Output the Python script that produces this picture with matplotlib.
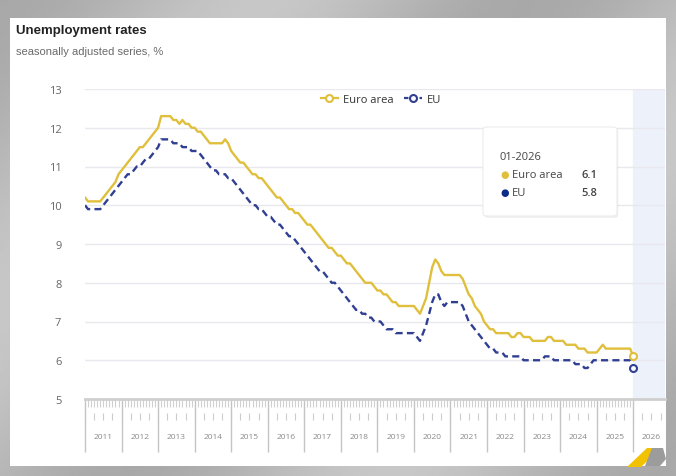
import numpy as np
import matplotlib
matplotlib.use("Agg")
import matplotlib.pyplot as plt
from matplotlib.lines import Line2D
from matplotlib.patches import FancyBboxPatch, Polygon, Rectangle

plt.rcParams['font.family'] = ['Open Sans', 'DejaVu Sans']

# monthly series, Jan 2011 .. Jan 2026 (one row per year)
euro_area = [
    10.2, 10.1, 10.1, 10.1, 10.1, 10.1, 10.2, 10.3, 10.4, 10.5, 10.6, 10.8,
    10.9, 11.0, 11.1, 11.2, 11.3, 11.4, 11.5, 11.5, 11.6, 11.7, 11.8, 11.9,
    12.0, 12.3, 12.3, 12.3, 12.3, 12.2, 12.2, 12.1, 12.2, 12.1, 12.1, 12.0,
    12.0, 11.9, 11.9, 11.8, 11.7, 11.6, 11.6, 11.6, 11.6, 11.6, 11.7, 11.6,
    11.4, 11.3, 11.2, 11.1, 11.1, 11.0, 10.9, 10.8, 10.8, 10.7, 10.7, 10.6,
    10.5, 10.4, 10.3, 10.2, 10.2, 10.1, 10.0, 9.9, 9.9, 9.8, 9.8, 9.7,
    9.6, 9.5, 9.5, 9.4, 9.3, 9.2, 9.1, 9.0, 8.9, 8.9, 8.8, 8.7,
    8.7, 8.6, 8.5, 8.5, 8.4, 8.3, 8.2, 8.1, 8.0, 8.0, 8.0, 7.9,
    7.8, 7.8, 7.7, 7.7, 7.6, 7.5, 7.5, 7.4, 7.4, 7.4, 7.4, 7.4,
    7.4, 7.3, 7.2, 7.4, 7.6, 8.0, 8.4, 8.6, 8.5, 8.3, 8.2, 8.2,
    8.2, 8.2, 8.2, 8.2, 8.1, 7.9, 7.7, 7.6, 7.4, 7.3, 7.2, 7.0,
    6.9, 6.8, 6.8, 6.7, 6.7, 6.7, 6.7, 6.7, 6.6, 6.6, 6.7, 6.7,
    6.6, 6.6, 6.6, 6.5, 6.5, 6.5, 6.5, 6.5, 6.6, 6.6, 6.5, 6.5,
    6.5, 6.5, 6.4, 6.4, 6.4, 6.4, 6.3, 6.3, 6.3, 6.2, 6.2, 6.2,
    6.2, 6.3, 6.4, 6.3, 6.3, 6.3, 6.3, 6.3, 6.3, 6.3, 6.3, 6.3,
    6.1,
]
eu = [
    10.0, 9.9, 9.9, 9.9, 9.9, 9.9, 10.0, 10.1, 10.2, 10.3, 10.4, 10.5,
    10.6, 10.7, 10.8, 10.8, 10.9, 11.0, 11.0, 11.1, 11.2, 11.2, 11.3, 11.4,
    11.5, 11.7, 11.7, 11.7, 11.7, 11.6, 11.6, 11.6, 11.5, 11.5, 11.5, 11.4,
    11.4, 11.4, 11.3, 11.2, 11.1, 11.0, 10.9, 10.9, 10.8, 10.8, 10.8, 10.7,
    10.7, 10.6, 10.5, 10.4, 10.3, 10.2, 10.1, 10.0, 10.0, 9.9, 9.9, 9.8,
    9.7, 9.7, 9.6, 9.5, 9.5, 9.4, 9.3, 9.2, 9.2, 9.1, 9.0, 8.9,
    8.8, 8.7, 8.6, 8.5, 8.4, 8.3, 8.3, 8.2, 8.1, 8.0, 8.0, 7.9,
    7.8, 7.7, 7.6, 7.5, 7.4, 7.3, 7.3, 7.2, 7.2, 7.1, 7.1, 7.0,
    7.0, 7.0, 6.9, 6.8, 6.8, 6.8, 6.7, 6.7, 6.7, 6.7, 6.7, 6.7,
    6.7, 6.6, 6.5, 6.7, 6.9, 7.2, 7.5, 7.7, 7.7, 7.5, 7.4, 7.5,
    7.5, 7.5, 7.5, 7.5, 7.4, 7.2, 7.0, 6.9, 6.8, 6.7, 6.6, 6.5,
    6.4, 6.3, 6.3, 6.2, 6.2, 6.2, 6.1, 6.1, 6.1, 6.1, 6.1, 6.1,
    6.0, 6.0, 6.0, 6.0, 6.0, 6.0, 6.0, 6.1, 6.1, 6.1, 6.0, 6.0,
    6.0, 6.0, 6.0, 6.0, 6.0, 5.9, 5.9, 5.9, 5.8, 5.8, 5.9, 6.0,
    6.0, 6.0, 6.0, 6.0, 6.0, 6.0, 6.0, 6.0, 6.0, 6.0, 6.0, 6.0,
    5.8,
]
start_year = 2011
years = list(range(2011, 2027))
y_ticks = [5, 6, 7, 8, 9, 10, 11, 12, 13]

series_names = ["Euro area", "EU"]
tooltip_date = "01-2026"
tooltip_values = ["6.1", "5.8"]

months = start_year + np.arange(len(euro_area)) / 12.0

c_ea = "#e0bf3c"
c_eu = "#303f92"

fig = plt.figure(figsize=(6.76, 4.77), dpi=100)
fig.patch.set_facecolor("#b8b8b8")

# grey frame with soft diagonal streaks
bg = fig.add_axes([0, 0, 1, 1], zorder=-10)
gx, gy = np.meshgrid(np.linspace(0, 1, 200), np.linspace(0, 1, 200))
bg.imshow(0.66 + 0.12 * np.sin(4.0 * (gx + 0.6 * gy)) ** 2, cmap="gray", vmin=0, vmax=1,
          extent=[0, 1, 0, 1], aspect="auto")
bg.add_patch(Rectangle((10 / 676, 1 - 467 / 477), (666 - 10) / 676, (467 - 19) / 477,
                       facecolor="white", edgecolor="none"))
bg.add_patch(Polygon([(627 / 676, 1 - 468 / 477), (647 / 676, 1 - 449 / 477),
                      (661 / 676, 1 - 449 / 477), (641 / 676, 1 - 468 / 477)],
                     facecolor="#f2c200", edgecolor="none"))
bg.add_patch(Polygon([(652 / 676, 1 - 449 / 477), (663 / 676, 1 - 449 / 477),
                      (666 / 676, 1 - 460 / 477), (660 / 676, 1 - 467 / 477),
                      (645 / 676, 1 - 467 / 477)],
                     facecolor="#9c9c9c", edgecolor="none"))
bg.set_xlim(0, 1)
bg.set_ylim(0, 1)
bg.axis("off")

fig.text(16 / 676, 1 - 31 / 477, "Unemployment rates", fontsize=9.5, fontweight="bold",
         color="#222222", family=["Liberation Sans", "DejaVu Sans"], va="center")
fig.text(16 / 676, 1 - 52 / 477, "seasonally adjusted series, %", fontsize=8,
         color="#6a6a6a", family=["Liberation Sans", "DejaVu Sans"], va="center")

ax = fig.add_axes([85 / 676, 1 - 400 / 477, 580 / 676, 310 / 477])
ax.set_facecolor("none")
ax.set_xlim(2011, 2026.87)
ax.set_ylim(5, 13)

ax.axvspan(2026, 2026.87, color="#edf1fa", zorder=0)
for v in y_ticks[1:]:
    ax.axhline(v, color="#e8e8ee", lw=1, zorder=1)

ax.plot(months, eu, color=c_eu, lw=1.7, dashes=(3.0, 1.8), zorder=3)
ax.plot(months, euro_area, color=c_ea, lw=1.7, zorder=4)
ax.plot(months[-1], euro_area[-1], "o", ms=5, mfc="white", mec=c_ea, mew=1.5, zorder=5)
ax.plot(months[-1], eu[-1], "o", ms=5, mfc="white", mec=c_eu, mew=1.5, zorder=5)

for s in ["top", "right", "left"]:
    ax.spines[s].set_visible(False)
ax.spines["bottom"].set_color("#cfcfcf")
ax.spines["bottom"].set_linewidth(2)

ax.set_yticks(y_ticks)
ax.tick_params(axis="y", length=0, pad=17, labelsize=8, labelcolor="#666666")

# x axis: year separators, monthly ruler ticks, year labels
ax.set_xticks(years)
ax.set_xticklabels([])
ax.set_xticks(months, minor=True)
ax.tick_params(axis="x", which="major", length=38, width=1, color="#c4c4c4")
ax.tick_params(axis="x", which="minor", length=6, width=0.8, color="#d0d0d0")

sec = ax.secondary_xaxis(-0.045)
sec.spines["bottom"].set_visible(False)
sec.set_xticks(start_year + np.arange(0, 16 * 12, 3) / 12.0)
sec.set_xticklabels([])
sec.tick_params(axis="x", length=5, width=0.8, color="#cccccc")

for yr in years:
    ax.text(yr + 0.5, -0.122, str(yr), transform=ax.get_xaxis_transform(),
            ha="center", va="center", fontsize=6, color="#8a8a8a")

handles = [
    Line2D([], [], color=c_ea, lw=1.6, marker="o", ms=5, mfc="white", mec=c_ea, mew=1.5),
    Line2D([], [], color=c_eu, lw=1.6, dashes=(2.0, 1.5), marker="o", ms=5, mfc="white",
           mec=c_eu, mew=1.5),
]
ax.legend(handles, series_names, loc="center", bbox_to_anchor=(0.51, 0.965), ncol=2,
          frameon=False, fontsize=8, handlelength=1.6, handletextpad=0.4,
          columnspacing=1.0, labelcolor="#333333")

# tooltip box
tx0, ty0, tw, th = 483 / 676, 1 - 217 / 477, 134 / 676, 89 / 477
fig.patches.append(FancyBboxPatch((tx0 + 0.002, ty0 - 0.004), tw, th,
                                  boxstyle="round,pad=0,rounding_size=0.006",
                                  transform=fig.transFigure, facecolor="#000000",
                                  alpha=0.06, edgecolor="none", zorder=20))
fig.patches.append(FancyBboxPatch((tx0, ty0), tw, th,
                                  boxstyle="round,pad=0,rounding_size=0.006",
                                  transform=fig.transFigure, facecolor="white",
                                  edgecolor="#ececec", lw=0.8, zorder=21))
fig.text(499 / 676, 1 - 157 / 477, tooltip_date, fontsize=8, color="#444444",
         va="center", zorder=22)
for i, (name, val, col) in enumerate(zip(series_names, tooltip_values, [c_ea, "#0d2c85"])):
    yy = 1 - (175 + 18 * i) / 477
    fig.text(505 / 676, yy, "\u25CF", fontsize=7, color=col, ha="center", va="center",
             family=["DejaVu Sans"], zorder=22)
    fig.text(512 / 676, yy, name, fontsize=8, color="#444444", va="center", zorder=22)
    fig.text(597 / 676, yy, val, fontsize=8, color="#444444", ha="right", va="center",
             fontweight="semibold", zorder=22)

fig.savefig("out.png", dpi=100)
